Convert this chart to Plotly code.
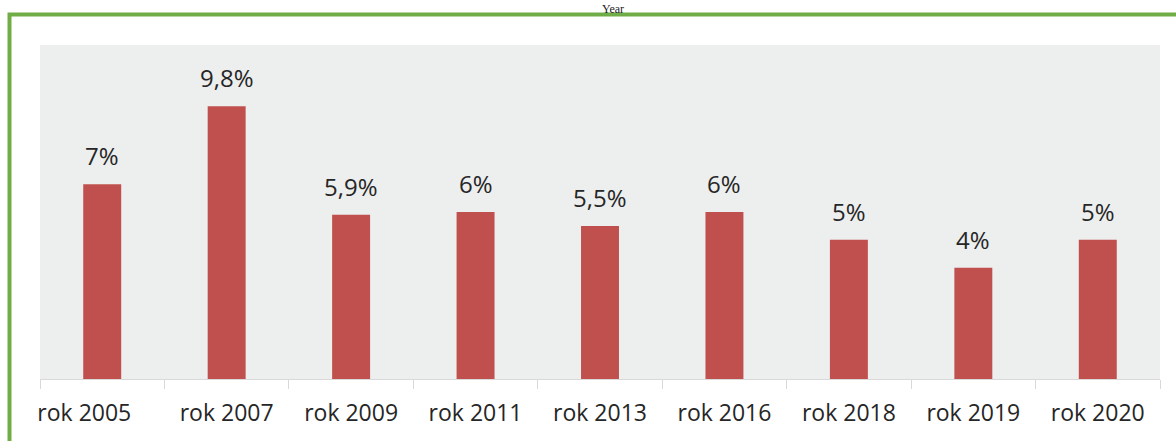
import plotly.graph_objects as go

categories = ["rok 2005", "rok 2007", "rok 2009", "rok 2011", "rok 2013",
              "rok 2016", "rok 2018", "rok 2019", "rok 2020"]
tick_labels = ["rok 2005\u00a0\u00a0\u00a0\u00a0\u00a0\u00a0", "rok 2007", "rok 2009",
               "rok 2011", "rok 2013", "rok 2016", "rok 2018", "rok 2019", "rok 2020"]
values = [7.0, 9.8, 5.9, 6.0, 5.5, 6.0, 5.0, 4.0, 5.0]
labels = ["7%", "9,8%", "5,9%", "6%", "5,5%", "6%", "5%", "4%", "5%"]
title_text = "Year"

fig = go.Figure()
fig.add_trace(go.Bar(x=categories, y=values, marker=dict(color="#C0504D", line=dict(width=0)),
                     hoverinfo="skip"))

for c, v, t in zip(categories, values, labels):
    fig.add_annotation(x=c, y=v, text=t, showarrow=False, yanchor="bottom", yshift=10,
                       font=dict(family="Open Sans, sans-serif", size=24, color="#262626"))

# title (small, fits above the frame)
fig.add_annotation(xref="paper", yref="paper", x=(613 - 40) / 1120, y=(379 - 0) / 334,
                   text=title_text, showarrow=False, yanchor="top", xanchor="center",
                   font=dict(family="Liberation Serif, serif", size=12, color="#222222"))

# green frame
fig.add_shape(type="rect", xref="paper", yref="paper",
              x0=(9.5 - 40) / 1120, y0=-0.5, x1=1.3, y1=(379 - 14.5) / 334,
              line=dict(color="#70AD47", width=4), fillcolor="rgba(0,0,0,0)", layer="above")

fig.update_layout(
    width=1176, height=441,
    margin=dict(l=40, r=16, t=45, b=62, autoexpand=False),
    paper_bgcolor="white", plot_bgcolor="#EDEEEE",
    bargap=0.695, showlegend=False,
    xaxis=dict(tickson="boundaries", ticks="outside", ticklen=9, tickcolor="#D9D9D9",
               showline=True, linecolor="#D9D9D9", linewidth=1, showgrid=False,
               ticklabelstandoff=13, tickmode="array", tickvals=categories, ticktext=tick_labels,
               tickangle=0, automargin=False,
               tickfont=dict(family="Open Sans, sans-serif", size=23, color="#262626"),
               fixedrange=True),
    yaxis=dict(range=[0, 12], showticklabels=False, showgrid=False, zeroline=False,
               showline=False, ticks="", fixedrange=True, automargin=False),
)

fig.write_html("out.html", config={"displayModeBar": False},
               post_script="document.body.style.margin='0';")
